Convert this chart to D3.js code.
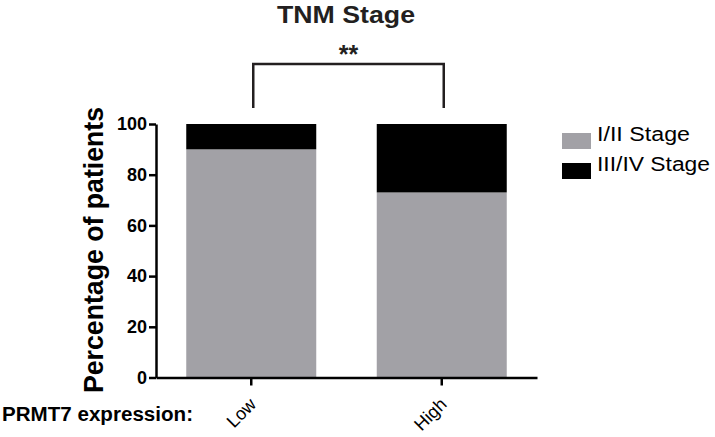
<!DOCTYPE html>
<html>
<head>
    <meta charset="utf-8">
    <title>TNM Stage</title>
    <script src="https://d3js.org/d3.v7.min.js"></script>
    <style>
        body { margin: 0; background: #fff; }
        text { font-family: Arial, "Liberation Sans", Helvetica, sans-serif; }
    </style>
</head>
<body>
    <svg id="chart"></svg>
    <script>
        // data
        var groups = ["Low", "High"];
        var stageI_II = [90, 73];
        var stageIII_IV = [10, 27];
        var seriesNames = ["I/II Stage", "III/IV Stage"];
        var seriesColors = ["#a2a1a6", "#000000"];
        var yTicks = [0, 20, 40, 60, 80, 100];

        var width = 715, height = 437;
        var svg = d3.select("#chart").attr("width", width).attr("height", height);

        var x = d3.scaleBand().domain(groups).range([156, 537])
            .paddingInner(0.3176).paddingOuter(0.1588);
        var y = d3.scaleLinear().domain([0, 100]).range([377.5, 124]);

        // stacked bars
        var rows = groups.map(function (g, i) {
            return { group: g, "I/II Stage": stageI_II[i], "III/IV Stage": stageIII_IV[i] };
        });
        var stacked = d3.stack().keys(seriesNames)(rows);

        svg.append("g").selectAll("g")
            .data(stacked)
            .enter().append("g")
            .attr("fill", function (d, i) { return seriesColors[i]; })
            .selectAll("rect")
            .data(function (d) { return d; })
            .enter().append("rect")
            .attr("x", function (d) { return x(d.data.group); })
            .attr("width", x.bandwidth())
            .attr("y", function (d) { return y(d[1]); })
            .attr("height", function (d) { return y(d[0]) - y(d[1]); });

        // y axis
        var yAxis = svg.append("g")
            .attr("transform", "translate(156,0)")
            .call(d3.axisLeft(y).tickValues(yTicks).tickSize(7).tickSizeOuter(0));
        yAxis.selectAll("path, line").attr("stroke", "#000").attr("stroke-width", 2.5);
        yAxis.selectAll("text").attr("font-size", 18).attr("font-weight", "bold")
            .attr("fill", "#000").attr("x", -9)
            .attr("font-family", "Arial, 'Liberation Sans', sans-serif");

        // x axis
        var xAxis = svg.append("g")
            .attr("transform", "translate(0,377.5)")
            .call(d3.axisBottom(x).tickSize(8).tickSizeOuter(0));
        xAxis.selectAll("path, line").attr("stroke", "#000").attr("stroke-width", 2.5);
        xAxis.selectAll("text")
            .attr("font-size", 18).attr("fill", "#000")
            .attr("font-family", "Arial, 'Liberation Sans', sans-serif")
            .attr("text-anchor", "end")
            .attr("dy", null).attr("y", null)
            .attr("transform", "translate(6,28) rotate(-45)");

        // y label
        svg.append("text")
            .attr("transform", "translate(103,250) rotate(-90)")
            .attr("text-anchor", "middle")
            .attr("font-size", 27).attr("font-weight", "bold")
            .attr("textLength", 286).attr("lengthAdjust", "spacingAndGlyphs")
            .text("Percentage of patients");

        // x label
        svg.append("text")
            .attr("x", 2).attr("y", 421)
            .attr("font-size", 20).attr("font-weight", "bold")
            .attr("textLength", 191).attr("lengthAdjust", "spacingAndGlyphs")
            .text("PRMT7 expression:");

        // title
        svg.append("text")
            .attr("x", 346).attr("y", 23)
            .attr("text-anchor", "middle")
            .attr("font-size", 24).attr("font-weight", "bold")
            .attr("fill", "#231f20")
            .attr("textLength", 138).attr("lengthAdjust", "spacingAndGlyphs")
            .text("TNM Stage");

        // significance bracket
        var bx1 = x("Low") + x.bandwidth() / 2 + 2;
        var bx2 = x("High") + x.bandwidth() / 2 + 2;
        svg.append("path")
            .attr("d", "M" + bx1 + ",108V64H" + bx2 + "V108")
            .attr("fill", "none").attr("stroke", "#231f20").attr("stroke-width", 2.5);
        svg.append("text")
            .attr("x", (bx1 + bx2) / 2).attr("y", 63)
            .attr("text-anchor", "middle")
            .attr("font-size", 25).attr("font-weight", "bold")
            .attr("fill", "#231f20")
            .text("**");

        // legend
        var legendWidths = [93, 113];
        var legend = svg.append("g").selectAll("g")
            .data(seriesNames)
            .enter().append("g")
            .attr("transform", function (d, i) { return "translate(562," + (133 + i * 30) + ")"; });
        legend.append("rect")
            .attr("width", 29).attr("height", 16)
            .attr("fill", function (d, i) { return seriesColors[i]; });
        legend.append("text")
            .attr("x", 35).attr("y", 7.5)
            .attr("font-size", 20)
            .attr("textLength", function (d, i) { return legendWidths[i]; })
            .attr("lengthAdjust", "spacingAndGlyphs")
            .text(function (d) { return d; });
    </script>
</body>
</html>
